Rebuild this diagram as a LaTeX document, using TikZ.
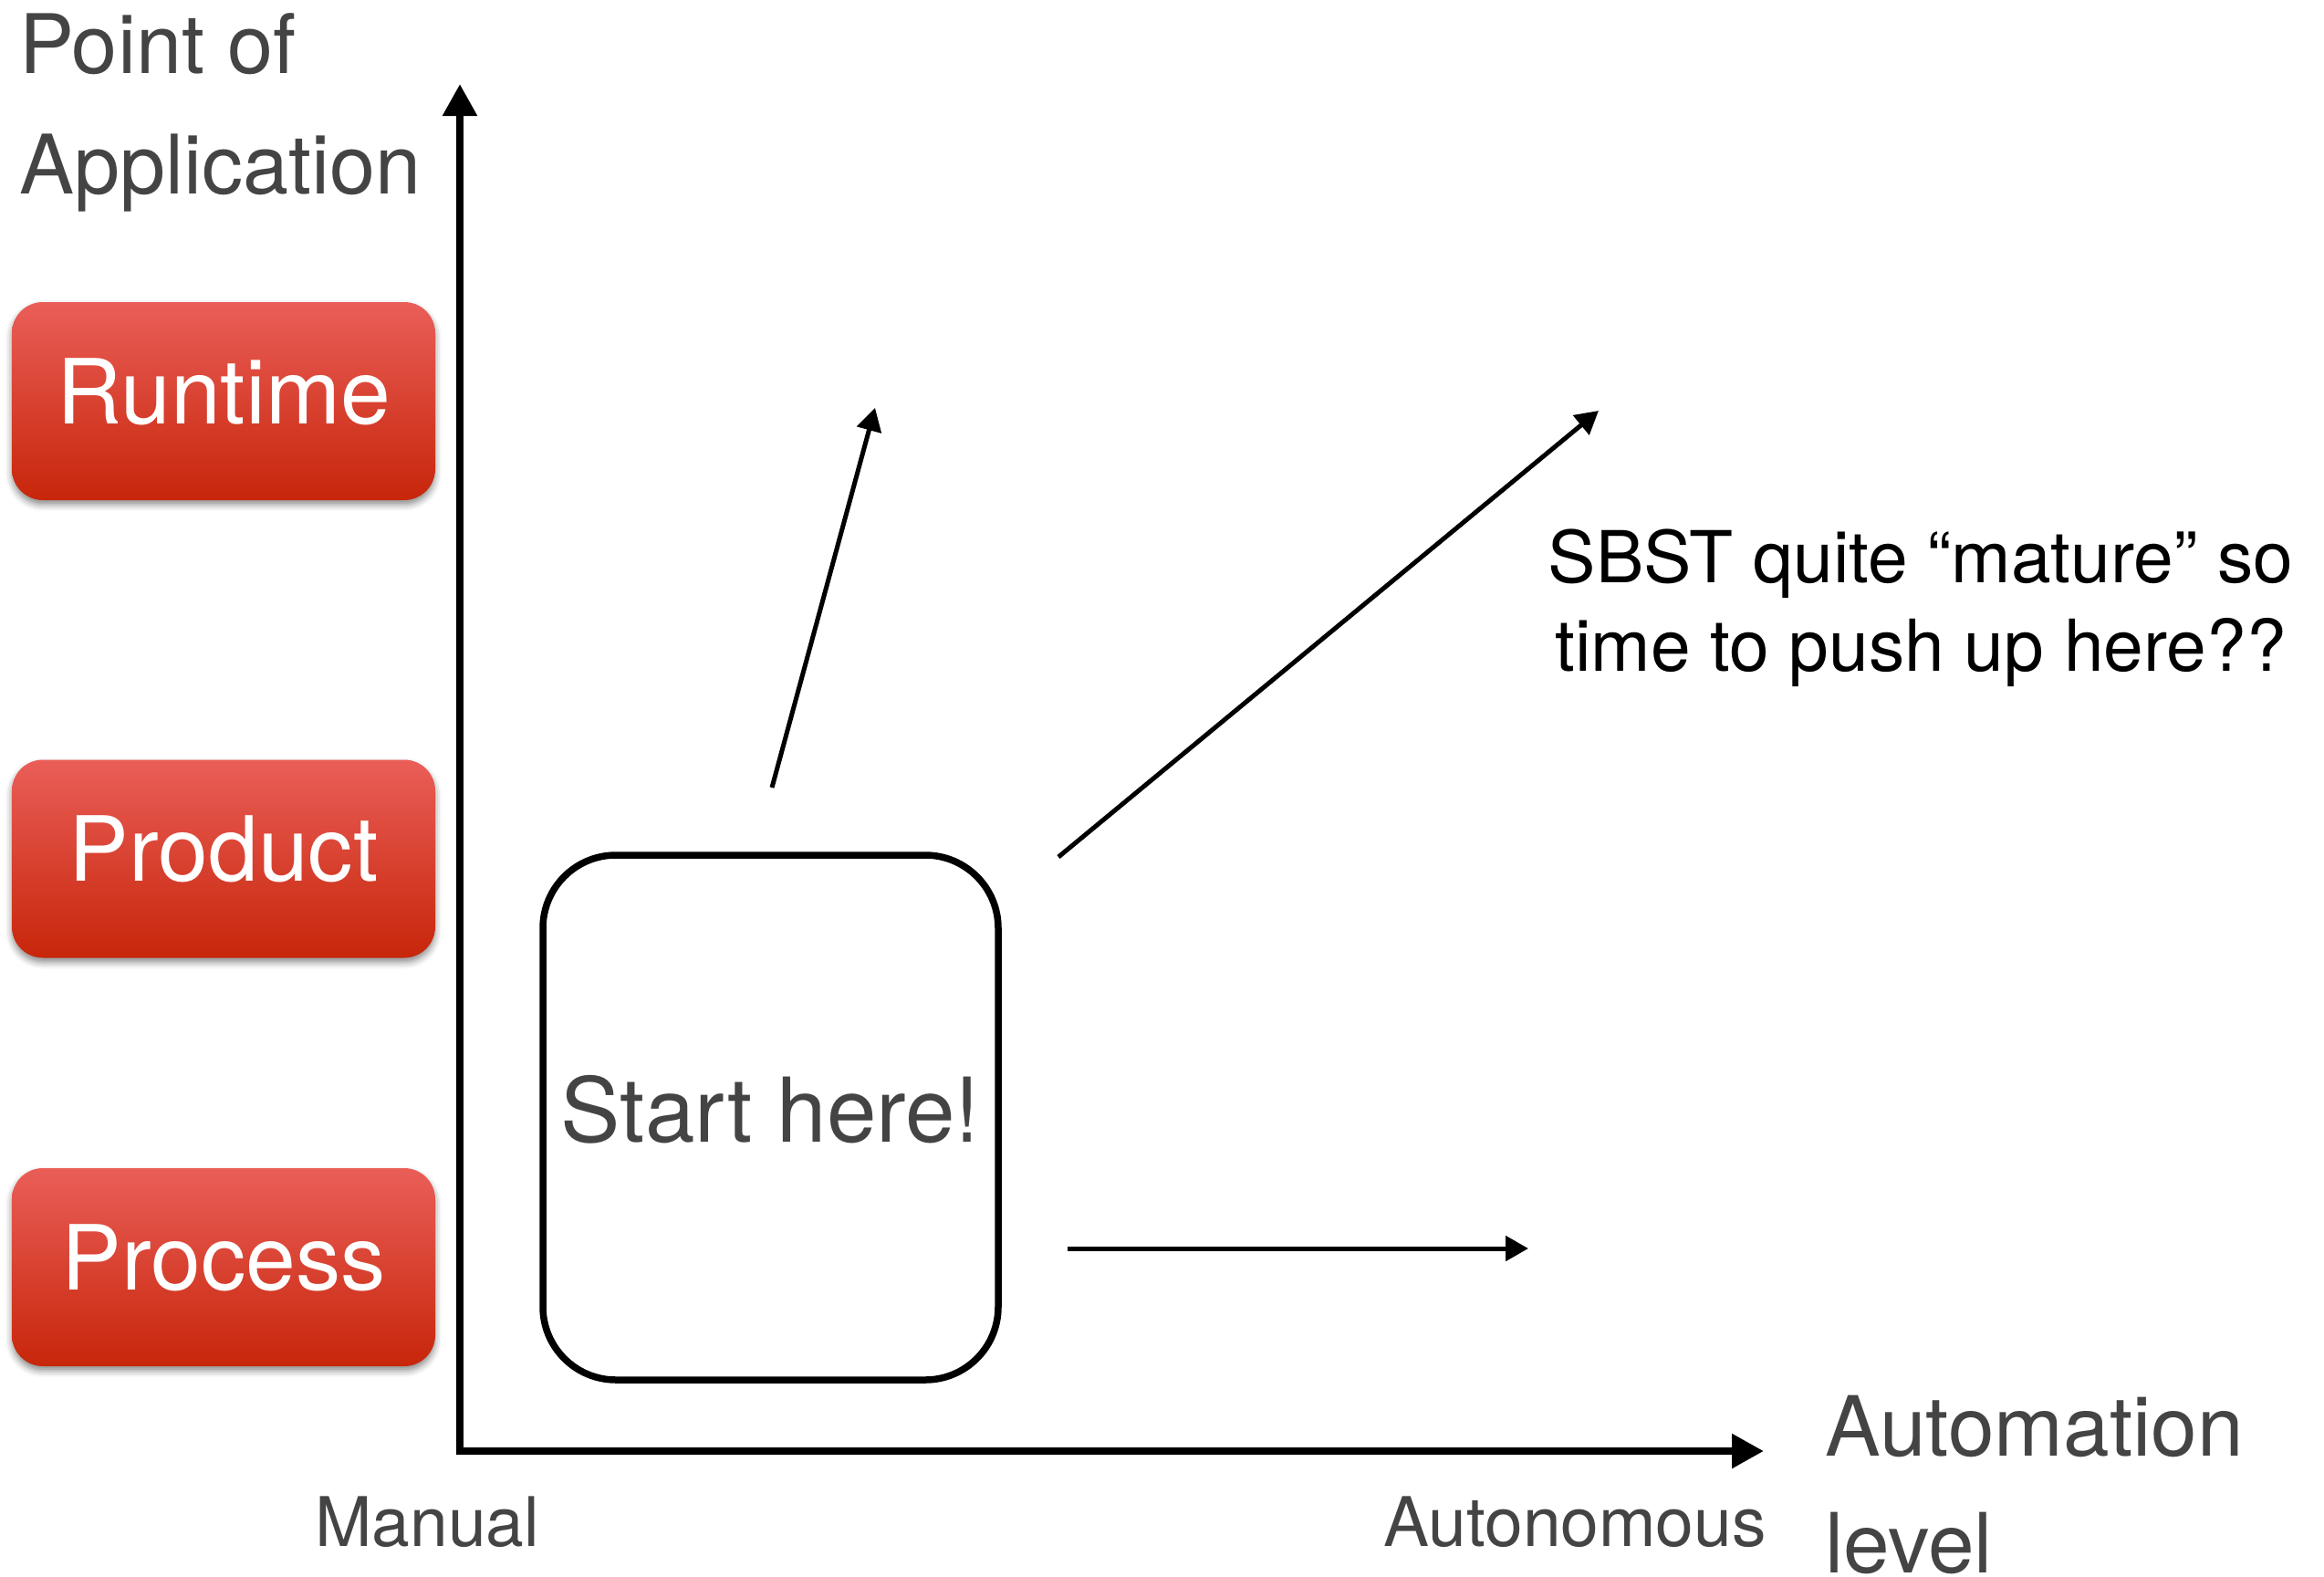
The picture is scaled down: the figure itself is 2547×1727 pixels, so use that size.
\documentclass[tikz,border=0pt]{standalone}
\usepackage{fontspec}
\setmainfont{TeX Gyre Heros}
\usetikzlibrary{arrows.meta,shadows.blur}
\definecolor{ink}{HTML}{444444}
\definecolor{btntop}{HTML}{EA5E58}
\definecolor{btnbot}{HTML}{C7260A}

\begin{document}
\begin{tikzpicture}[x=1pt,y=-1pt,
  btn/.style={rounded corners=34pt, minimum width=464pt, minimum height=217pt,
    inner sep=0pt, top color=btntop, bottom color=btnbot, text=white,
    font=\fontsize{98.5}{112}\selectfont, text height=70pt, text depth=21pt,
    blur shadow={shadow xshift=0pt, shadow yshift=-5pt, shadow blur radius=7pt, shadow opacity=45}},
  startbox/.style={draw, line width=7.5pt, rounded corners=80pt, minimum width=499pt,
    minimum height=575pt, inner sep=0pt, text=ink,
    font=\fontsize{98}{118}\selectfont, text height=70pt, text depth=17pt},
  lbl/.style={inner sep=0pt, text=ink},
  axis/.style={line width=8.5pt, {Triangle[length=35pt,width=36pt]}-{Triangle[length=35pt,width=36pt]}},
  push/.style={line width=5pt, -{Triangle[length=25pt,width=27pt]}}
]
\useasboundingbox (0,0) rectangle (2547,1727);

% axes
\coordinate (origin) at (504,1590);
\coordinate (ytip) at (504,92);
\coordinate (xtip) at (1933,1590);
\draw[axis] (ytip) -- (origin) -- (xtip);

% axis titles and ends (base anchor sits on the last line)
\node[lbl, anchor=base west, align=left, font=\fontsize{90}{132}\selectfont] (poa) at (21,212) {Point of\\Application};
\node[lbl, anchor=base west, align=left, font=\fontsize{91}{128}\selectfont] (autolvl) at (2000,1723) {Automation\\level};
\node[lbl, anchor=base west, font=\fontsize{75}{90}\selectfont] (manual) at (345,1694) {Manual};
\node[lbl, anchor=base east, font=\fontsize{75}{90}\selectfont] (autonomous) at (1936,1694) {Autonomous};

% levels on the vertical axis
\node[btn] (runtime) at (245,439.5) {Runtime};
\node[btn] (product) at (245,941) {Product};
\node[btn] (process) at (245,1388.5) {Process};

% starting region
\node[startbox] (start) at (844.5,1224.5) {Start here!};

% directions to push
\coordinate (upfrom) at (846,863);
\coordinate (upto) at (959,447);
\coordinate (diagfrom) at (1160,939);
\coordinate (diagto) at (1752,450);
\coordinate (hfrom) at (1170,1368);
\coordinate (hto) at (1675,1368);
\draw[push] (upfrom) -- (upto);
\draw[push] (diagfrom) -- (diagto);
\draw[push] (hfrom) -- (hto);

\node[inner sep=0pt, anchor=base, align=center, text=black, font=\fontsize{78.5}{97}\selectfont] (note) at (2105,735) {SBST quite “mature” so\\time to push up here??};
\end{tikzpicture}
\end{document}
